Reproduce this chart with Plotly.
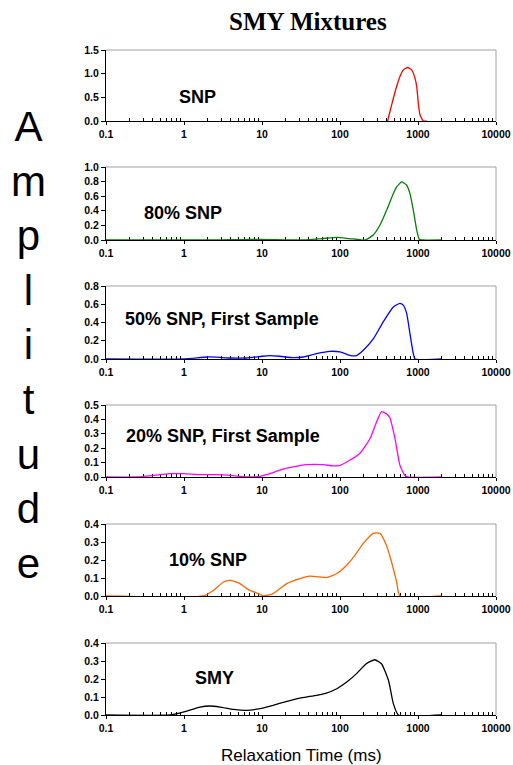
import plotly.graph_objects as go

# ---- data: relaxation-time distributions (x in ms, amplitude) ----
snp_x = [408, 437, 483, 532, 587, 648, 737, 830, 916, 962, 1010, 1061, 1170, 1290]
snp_y = [0, 0.2, 0.48, 0.73, 0.94, 1.08, 1.13, 1.08, 0.9, 0.73, 0.37, 0.13, 0, 0]

snp80_x = [0.1, 1, 3, 5, 10, 15, 25, 40, 60, 91, 130, 180, 210, 267, 326, 397, 483,
           532, 618, 716, 789, 871, 962, 1040, 1114, 2000]
snp80_y = [0, 0, 0.002, 0.006, 0.007, 0.005, 0.001, 0.005, 0.02, 0.035, 0.02, 0.004, 0,
           0.068, 0.205, 0.41, 0.636, 0.727, 0.795, 0.75, 0.636, 0.41, 0.136, 0.01, 0, 0]

snp50_x = [0.1, 1, 1.95, 2.6, 3.9, 6.3, 10, 12.6, 16.9, 25, 33.6, 50, 74, 100, 133, 163,
           199, 267, 360, 483, 587, 648, 715, 788, 870, 916, 2000]
snp50_y = [0, 0, 0.022, 0.02, 0.011, 0.011, 0.03, 0.037, 0.03, 0.015, 0.022, 0.059, 0.084,
           0.077, 0.04, 0.037, 0.095, 0.22, 0.41, 0.57, 0.61, 0.59, 0.50, 0.28, 0.06, 0, 0]

snp20_x = [0.1, 0.247, 0.49, 0.66, 1.0, 1.6, 2.6, 4.2, 6.3, 9.4, 11.5, 16.9, 25, 37, 61, 82,
           100, 133, 179, 243, 295, 340, 392, 437, 507, 587, 677, 745, 2000]
snp20_y = [0, 0, 0.016, 0.023, 0.023, 0.016, 0.016, 0.009, 0, 0.005, 0.016, 0.047, 0.07,
           0.086, 0.086, 0.077, 0.081, 0.116, 0.163, 0.267, 0.384, 0.453, 0.44, 0.41, 0.267,
           0.081, 0.012, 0, 0]

snp10_x = [0.1, 1.77, 2.4, 3.2, 3.9, 5.2, 6.6, 9.4, 10.4, 13.9, 20.8, 30.7, 41, 55, 67, 91,
           122, 156, 199, 267, 326, 392, 457, 532, 587, 2000]
snp10_y = [0, 0, 0.032, 0.078, 0.087, 0.069, 0.037, 0.009, 0, 0.013, 0.069, 0.097, 0.11,
           0.106, 0.102, 0.125, 0.171, 0.227, 0.292, 0.348, 0.348, 0.283, 0.19, 0.078, 0, 0]

smy_x = [0.1, 0.66, 1.0, 1.6, 2.15, 2.9, 4.3, 6.3, 9.4, 13.9, 20.8, 30.7, 45.5, 67, 91, 122,
         163, 217, 279, 340, 418, 483, 560, 2000]
smy_y = [0, 0, 0.017, 0.044, 0.05, 0.044, 0.031, 0.026, 0.035, 0.054, 0.076, 0.094, 0.106,
         0.122, 0.146, 0.183, 0.23, 0.285, 0.307, 0.285, 0.193, 0.063, 0, 0]

labels = ["SNP", "80% SNP", "50% SNP, First Sample", "20% SNP, First Sample", "10% SNP", "SMY"]
colors = ["#FF0000", "#008000", "#0000FF", "#FF00FF", "#FF6600", "#000000"]
xs = [snp_x, snp80_x, snp50_x, snp20_x, snp10_x, smy_x]
ys = [snp_y, snp80_y, snp50_y, snp20_y, snp10_y, smy_y]
y_max = [1.5, 1.0, 0.8, 0.5, 0.4, 0.4]
y_step = [0.5, 0.2, 0.2, 0.1, 0.1, 0.1]

x_tick_vals = [0.1, 1, 10, 100, 1000, 10000]
x_tick_text = ["0.1", "1", "10", "100", "1000", "10000"]

# ---- layout geometry (pixels) ----
W, H = 513, 765
PX_LEFT, PX_RIGHT = 106, 496
panel_px = [(50, 121), (167, 240), (286, 359), (405, 477), (524, 596), (643, 715)]
label_px = [(177, 97), (142, 213), (123, 319), (124, 436), (167, 560), (193, 678)]

SANS = "Liberation Sans, Arial, sans-serif"
SERIF = "Liberation Serif, Times New Roman, serif"

minor_vals = [m * 10 ** e for e in range(-1, 4) for m in range(2, 10)]

fig = go.Figure()
layout = dict(
    width=W, height=H, margin=dict(l=0, r=0, t=0, b=0, autoexpand=False),
    paper_bgcolor="white", plot_bgcolor="white", showlegend=False,
)
shapes = []
annotations = []

for i in range(6):
    n = "" if i == 0 else str(i + 1)
    fig.add_trace(go.Scatter(
        x=xs[i], y=ys[i], mode="lines",
        line=dict(color=colors[i], width=1.3, shape="spline", smoothing=0.5),
        xaxis="x" + n, yaxis="y" + n, hoverinfo="skip",
    ))
    top, bot = panel_px[i]
    layout["xaxis" + n] = dict(
        type="log", range=[-1, 4], domain=[PX_LEFT / W, PX_RIGHT / W],
        anchor="y" + n, showgrid=False, zeroline=False, automargin=False,
        showline=True, linecolor="black", linewidth=1,
        ticks="outside", ticklen=3, tickcolor="black", tickwidth=1,
        tickmode="array", tickvals=x_tick_vals, ticktext=x_tick_text,
        tickfont=dict(family=SANS, size=10.5, color="black", weight="bold"),
        minor=dict(tickmode="array", tickvals=minor_vals, ticks="inside",
                   ticklen=3, tickcolor="black", tickwidth=1, showgrid=False),
        layer="below traces", fixedrange=True,
    )
    layout["yaxis" + n] = dict(
        range=[0, y_max[i]], domain=[1 - bot / H, 1 - top / H],
        anchor="x" + n, showgrid=False, zeroline=False, automargin=False,
        showline=True, linecolor="black", linewidth=1,
        ticks="outside", ticklen=4, tickcolor="black", tickwidth=1,
        dtick=y_step[i], tick0=0, tickformat=".1f",
        tickfont=dict(family=SANS, size=10.5, color="black", weight="bold"),
        layer="below traces", fixedrange=True,
    )
    # grey plot-area frame on top and right
    shapes.append(dict(type="line", xref=f"x{n} domain", yref=f"y{n} domain",
                       x0=0, x1=1, y0=1, y1=1, line=dict(color="#A0A0A0", width=1),
                       layer="below"))
    shapes.append(dict(type="line", xref=f"x{n} domain", yref=f"y{n} domain",
                       x0=1, x1=1, y0=0, y1=1, line=dict(color="#A0A0A0", width=1),
                       layer="below"))
    lx, ly = label_px[i]
    annotations.append(dict(
        text=labels[i], xref="paper", yref="paper", x=lx / W, y=1 - ly / H,
        xanchor="left", yanchor="middle", showarrow=False,
        font=dict(family=SANS, size=18, color="black", weight="bold"),
    ))

annotations.append(dict(
    text="SMY Mixtures", xref="paper", yref="paper", x=308 / W, y=1 - 21 / H,
    xanchor="center", yanchor="middle", showarrow=False,
    font=dict(family=SERIF, size=25, color="black", weight="bold"),
))
annotations.append(dict(
    text="Relaxation Time (ms)", xref="paper", yref="paper", x=301 / W, y=1 - 767 / H,
    xanchor="center", yanchor="bottom", showarrow=False,
    font=dict(family=SANS, size=17, color="black"),
))
annotations.append(dict(
    text="<br>".join("Amplitude"), xref="paper", yref="paper", x=28 / W, y=1 - 345 / H,
    xanchor="center", yanchor="middle", showarrow=False,
    font=dict(family=SANS, size=42, color="black"),
))

layout["shapes"] = shapes
layout["annotations"] = annotations
fig.update_layout(**layout)
fig.write_html("out.html")
